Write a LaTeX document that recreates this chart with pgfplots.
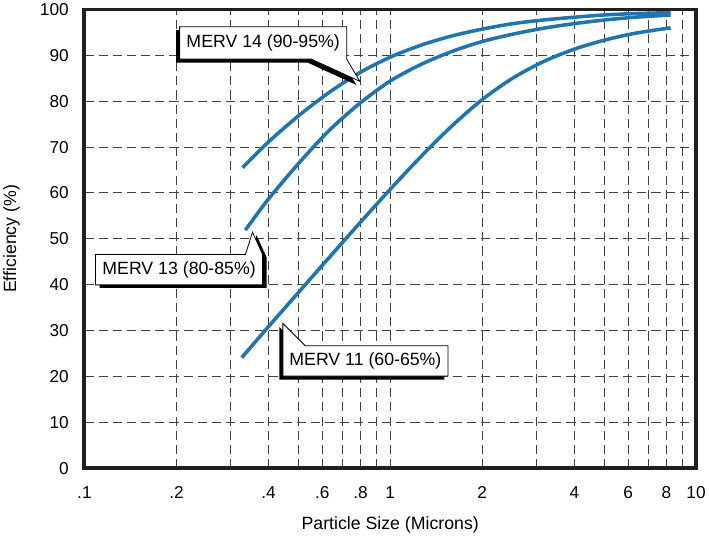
\documentclass[border=0pt]{standalone}
\usepackage{fontspec}
\setmainfont{Liberation Sans}
\usepackage{pgfplots}
\pgfplotsset{compat=1.18}

\definecolor{curveblue}{RGB}{30,117,178}
\definecolor{gridgray}{RGB}{65,65,65}
\definecolor{frameblack}{RGB}{35,31,32}

\begin{document}
\begin{tikzpicture}
\begin{axis}[
    scale only axis,
    width=604pt, height=453pt,
    xmode=log, log basis x=10,
    xmin=0.1, xmax=10,
    ymin=0, ymax=100,
    xtick={0.1,0.2,0.4,0.6,0.8,1,2,4,6,8,10},
    xticklabels={.1,.2,.4,.6,.8,1,2,4,6,8,10},
    minor xtick={0.3,0.5,0.7,0.9,3,5,7,9},
    ytick={0,10,...,100},
    grid=both,
    major grid style={gridgray, line width=0.9pt, dash pattern=on 9pt off 5pt},
    minor grid style={gridgray, line width=0.9pt, dash pattern=on 9pt off 5pt},
    axis line style={frameblack, line width=3.8pt},
    tick style={draw=none},
    /pgf/number format/assume math mode=true,
    tick label style={font=\fontsize{17}{20}\selectfont},
    xticklabel style={yshift=-15pt},
    yticklabel style={xshift=-12pt},
    label style={font=\fontsize{17.5}{20}\selectfont},
    xlabel={Particle Size (Microns)},
    ylabel={Efficiency (\%)},
    xlabel style={at={(axis description cs:0.5,-0.124)}, anchor=center},
    ylabel style={at={(axis description cs:-0.119,0.5)}, anchor=center},
]
% MERV 14
\addplot[curveblue, line width=3.5pt, smooth, no markers] coordinates {
(0.329,65.5) (0.398,71.0) (0.501,76.8) (0.631,81.9) (0.794,86.2)
(1.0,89.6) (1.259,92.2) (1.585,94.2) (1.995,95.7) (2.512,96.9)
(3.162,97.7) (3.981,98.3) (5.012,98.8) (6.310,99.1) (8.26,99.3)
};
% MERV 13
\addplot[curveblue, line width=3.5pt, smooth, no markers] coordinates {
(0.336,51.9) (0.398,58.5) (0.501,66.4) (0.631,73.6) (0.794,79.5)
(1.0,84.4) (1.259,88.0) (1.585,90.8) (1.995,93.0) (2.512,94.6)
(3.162,95.9) (3.981,96.9) (5.012,97.7) (6.310,98.3) (8.26,98.8)
};
% MERV 11
\addplot[curveblue, line width=3.5pt, smooth, no markers] coordinates {
(0.327,24.1) (0.398,30.7) (0.501,38.3) (0.631,45.9) (0.794,53.4)
(1.0,60.8) (1.259,67.9) (1.585,74.5) (1.995,80.3) (2.512,85.0)
(3.162,88.6) (3.981,91.3) (5.012,93.3) (6.310,94.8) (8.26,96.0)
};
\end{axis}
\begin{scope}[x=1pt, y=1pt, font=\fontsize{17.5}{20}\selectfont]
% MERV 14 callout
\fill[black, shift={(-3.5,-3.5)}] (94,436) -- (259,436) -- (259,404) -- (272,382) -- (224,404) -- (94,404) -- cycle;
\draw[black, fill=white, line width=0.8pt] (94,436) -- (259,436) -- (259,404) -- (272,382) -- (224,404) -- (94,404) -- cycle;
\node at (176.5,420) {MERV 14 (90-95\%)};
% MERV 13 callout
\fill[black, shift={(4,-3)}] (11,211) -- (159,211) -- (166,233) -- (176,211) -- (176,181) -- (11,181) -- cycle;
\draw[black, fill=white, line width=0.8pt] (11,211) -- (159,211) -- (166,233) -- (176,211) -- (176,181) -- (11,181) -- cycle;
\node at (93.5,196) {MERV 13 (80-85\%)};
% MERV 11 callout
\fill[black, shift={(-3.5,-3.5)}] (196,143) -- (218,121) -- (359,121) -- (359,91) -- (196,91) -- cycle;
\draw[black, fill=white, line width=0.8pt] (196,143) -- (218,121) -- (359,121) -- (359,91) -- (196,91) -- cycle;
\node at (277.5,106) {MERV 11 (60-65\%)};
\end{scope}
\end{tikzpicture}
\end{document}
